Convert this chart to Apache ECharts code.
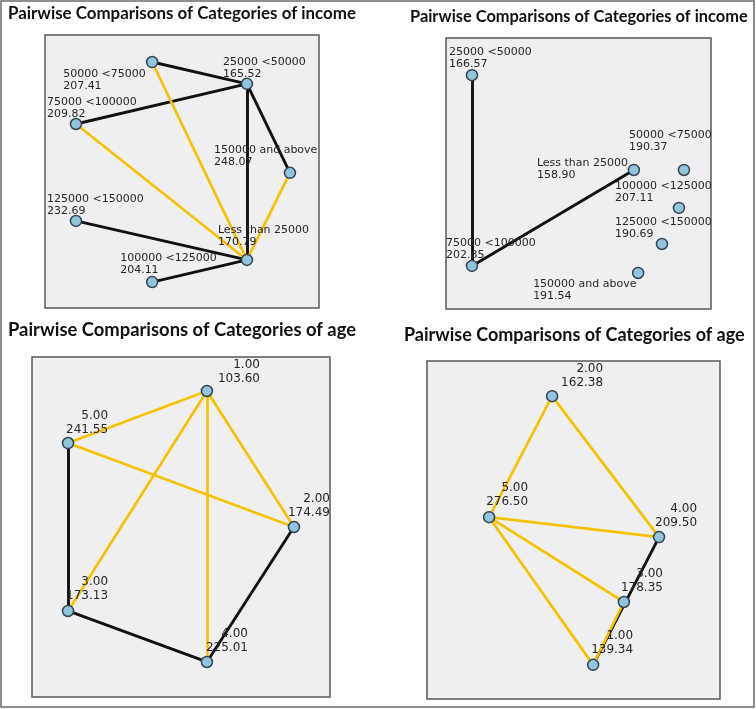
<!DOCTYPE html>
<html>
<head>
<meta charset="utf-8">
<script src="https://cdn.jsdelivr.net/npm/echarts@6/dist/echarts.min.js"></script>
<style>
html,body{margin:0;padding:0;background:#fff;}
#chart{width:756px;height:709px;}
</style>
</head>
<body>
<div id="chart"></div>
<script>
// ---------- DATA ----------
const titleIncome = 'Pairwise Comparisons of Categories of income';
const titleAge = 'Pairwise Comparisons of Categories of age';

// Panel 1 (top-left)
const p1Names = ['50000 <75000','25000 <50000','75000 <100000','150000 and above','125000 <150000','Less than 25000','100000 <125000'];
const p1Ranks = ['207.41','165.52','209.82','248.07','232.69','170.79','204.11'];
const p1X = [39.1, 73.7, 11.3, 89.4, 11.3, 73.7, 39.1];
const p1Y = [90.1, 82.1, 67.4, 49.5, 31.9, 17.6, 9.5];
const p1Black = [[0,1],[1,2],[1,5],[1,3],[4,5],[5,6]];
const p1Yellow = [[0,5],[2,5],[3,5]];

// Panel 2 (top-right)
const p2Names = ['25000 <50000','Less than 25000','50000 <75000','100000 <125000','125000 <150000','150000 and above','75000 <100000'];
const p2Ranks = ['166.57','158.90','190.37','207.11','190.69','191.54','202.85'];
const p2X = [9.8, 70.9, 89.8, 87.9, 81.5, 72.5, 9.8];
const p2Y = [86.3, 51.3, 51.3, 37.3, 24.0, 13.3, 15.9];
const p2Black = [[0,6],[6,1]];
const p2Yellow = [];

// Panel 3 (bottom-left)
const p3Names = ['1.00','5.00','2.00','3.00','4.00'];
const p3Ranks = ['103.60','241.55','174.49','173.13','225.01'];
const p3X = [58.7, 12.1, 87.9, 12.1, 58.7];
const p3Y = [90.0, 74.7, 50.0, 25.3, 10.3];
const p3Black = [[1,3],[3,4],[4,2]];
const p3Yellow = [[0,1],[0,3],[0,4],[0,2],[1,2]];

// Panel 4 (bottom-right)
const p4Names = ['2.00','5.00','4.00','3.00','1.00'];
const p4Ranks = ['162.38','276.50','209.50','178.35','139.34'];
const p4X = [42.7, 21.2, 79.2, 67.2, 56.7];
const p4Y = [89.6, 53.8, 47.9, 28.7, 10.1];
const p4Black = [[2,4]];
const p4Yellow = [[0,1],[0,2],[1,2],[1,3],[1,4],[3,4]];

// ---------- LAYOUT (positions/styles) ----------
const grids = [
  {left:45, top:35, width:274, height:273},
  {left:446, top:38, width:265, height:271},
  {left:32, top:357, width:298, height:340},
  {left:427, top:361, width:293, height:338}
];
const titles = [
  {text:titleIncome, left:8, top:5, size:16.9},
  {text:titleIncome, left:410, top:9, size:16.4},
  {text:titleAge, left:8, top:321, size:18.4},
  {text:titleAge, left:404, top:326, size:18}
];
// label offsets relative to node centre: [dx, dy(top of label block)]
const p1LabOff = [[-89,6.5],[-24,-27.5],[-29,-27.5],[-76,-28.5],[-29,-27.5],[-29,-35.5],[-32,-29.5]];
const p2LabOff = [[-23,-28.5],[-97,-12.5],[-55,-40.5],[-64,-27.5],[-47,-27.5],[-105,5.5],[-26,-28.5]];
const p3LabOff = [[53,-33],[40,-34],[36,-35],[40,-36],[41,-35]];
const p4LabOff = [[51,-34],[39,-36],[38,-35],[39,-35],[40,-36]];

const panels = [
  {names:p1Names, ranks:p1Ranks, xs:p1X, ys:p1Y, black:p1Black, yellow:p1Yellow, off:p1LabOff, align:'left', fs:11, lh:12},
  {names:p2Names, ranks:p2Ranks, xs:p2X, ys:p2Y, black:p2Black, yellow:p2Yellow, off:p2LabOff, align:'left', fs:11, lh:12},
  {names:p3Names, ranks:p3Ranks, xs:p3X, ys:p3Y, black:p3Black, yellow:p3Yellow, off:p3LabOff, align:'right', fs:12, lh:14},
  {names:p4Names, ranks:p4Ranks, xs:p4X, ys:p4Y, black:p4Black, yellow:p4Yellow, off:p4LabOff, align:'right', fs:12, lh:14}
];

const BLACK = '#111111';
const YELLOW = '#f3c300';

const chart = echarts.init(document.getElementById('chart'), null, {renderer:'canvas'});

const series = [];
panels.forEach((p, i) => {
  const edge = (pair) => ({coords: [[p.xs[pair[0]], p.ys[pair[0]]], [p.xs[pair[1]], p.ys[pair[1]]]]});
  series.push({
    type:'lines', coordinateSystem:'cartesian2d', xAxisIndex:i, yAxisIndex:i, z:2,
    silent:true, animation:false,
    lineStyle:{color:BLACK, width:2.9, opacity:1, cap:'round'},
    data: p.black.map(edge)
  });
  series.push({
    type:'lines', coordinateSystem:'cartesian2d', xAxisIndex:i, yAxisIndex:i, z:3,
    silent:true, animation:false,
    lineStyle:{color:YELLOW, width:2.7, opacity:1, cap:'round'},
    data: p.yellow.map(edge)
  });
  series.push({
    type:'scatter', xAxisIndex:i, yAxisIndex:i, z:5, animation:false,
    symbol:'circle', symbolSize:11,
    itemStyle:{color:'#93c4de', borderColor:'#33434e', borderWidth:1.5, opacity:1},
    data: p.names.map((n, k) => ({
      name:n, value:[p.xs[k], p.ys[k]], rank:p.ranks[k],
      label:{offset:p.off[k]}
    })),
    label:{
      show:true, position:'inside', align:p.align, verticalAlign:'top',
      color:'#262626', fontFamily:'DejaVu Sans', fontSize:p.fs, lineHeight:p.lh,
      textBorderWidth:0,
      formatter:(d) => d.data.name + '\n' + d.data.rank
    },
    emphasis:{disabled:true}
  });
});

const option = {
  backgroundColor:'#ffffff',
  animation:false,
  title: titles.map(t => ({
    text:t.text, left:t.left, top:t.top, padding:0,
    textStyle:{fontFamily:'Lato', fontWeight:'bold', fontSize:t.size, color:'#111'}
  })),
  grid: grids.map(g => ({
    left:g.left, top:g.top, width:g.width, height:g.height,
    show:true, backgroundColor:'#efeff1', borderColor:'#5a5a5a', borderWidth:1.5
  })),
  xAxis: grids.map((g, i) => ({type:'value', gridIndex:i, min:0, max:100, show:false})),
  yAxis: grids.map((g, i) => ({type:'value', gridIndex:i, min:0, max:100, show:false})),
  graphic: [{
    type:'rect', silent:true, z:100,
    shape:{x:1, y:1, width:753, height:706},
    style:{fill:'none', stroke:'#6a6a6a', lineWidth:1.5}
  }],
  series: series
};
chart.setOption(option);
</script>
</body>
</html>
